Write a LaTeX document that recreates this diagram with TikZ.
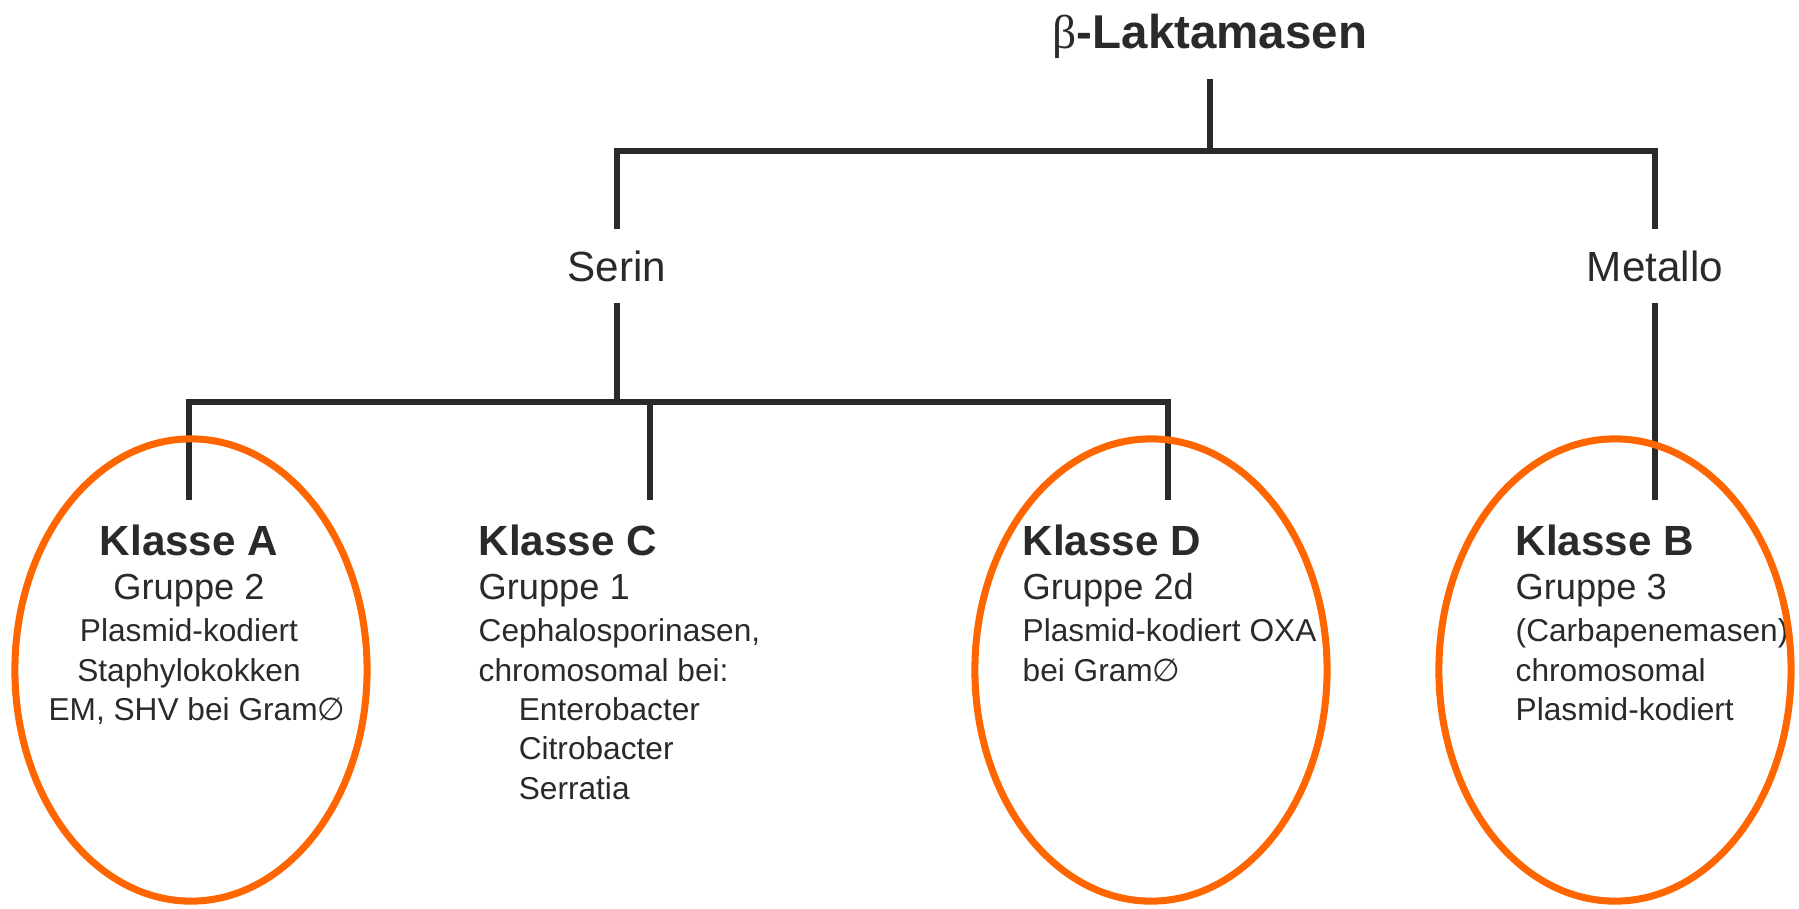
\documentclass[tikz,border=0pt]{standalone}
\usepackage{fontspec}
\setmainfont{Liberation Sans}
\newfontfamily\betafont{Liberation Serif}
\newfontfamily\symbfont{DejaVu Sans}
\usetikzlibrary{shapes.geometric, positioning}
\definecolor{ringorange}{HTML}{FF6600}
\definecolor{inkgray}{HTML}{2A2A2A}
\newcommand{\klassefont}{\fontsize{12}{14}\selectfont\bfseries}
\newcommand{\gruppefont}{\fontsize{10.3}{12}\selectfont}
\newcommand{\gramneg}{{\symbfont ∅}}

\begin{document}
\begin{tikzpicture}[
  x=0.01cm, y=-0.01cm,
  titlebox/.style={inner xsep=0pt, inner ysep=5.8pt, font=\fontsize{13.5}{16}\selectfont\bfseries, text=inkgray},
  branch/.style={inner sep=0pt, minimum height=0.72cm, font=\fontsize{12}{14}\selectfont, text=inkgray},
  classbox/.style={inner sep=0pt, align=left, font=\fontsize{9}{11.2}\selectfont, text=inkgray},
  ring/.style={ellipse, draw=ringorange, line width=2pt, inner sep=0pt, minimum width=3.52cm, minimum height=4.62cm},
  conn/.style={draw=inkgray, line width=1.5pt}
]
  \useasboundingbox (0,0) rectangle (1799,908);

  % Root
  \node[titlebox, anchor=base] (title) at (1210,48) {{\mdseries\betafont β}-Laktamasen};
  \coordinate (jT) at (1210,151);

  % Serin / Metallo
  \node[branch] (serin) at (617,266) {Serin};
  \node[branch] (metallo) at (1655,266) {Metallo};
  \coordinate (jS) at (617,402);

  % Classes
  \node[classbox, align=center, anchor=north] (kA) at (189,524) {%
    {\klassefont Klasse A}\\[1.5pt]
    {\gruppefont Gruppe 2}\\[0.7pt]
    Plasmid-kodiert\\
    Staphylokokken\\
    \hspace*{4.5pt}EM, SHV bei Gram\gramneg};
  \node[classbox, anchor=north west] (kC) at (478,524) {%
    {\klassefont Klasse C}\\[1.5pt]
    {\gruppefont Gruppe 1}\\[0.7pt]
    Cephalosporinasen,\\
    chromosomal bei:\\
    \hspace*{11.4pt}Enterobacter\\
    \hspace*{11.4pt}Citrobacter\\
    \hspace*{11.4pt}Serratia};
  \node[classbox, anchor=north west] (kD) at (1022,524) {%
    {\klassefont Klasse D}\\[1.5pt]
    {\gruppefont Gruppe 2d}\\[0.7pt]
    Plasmid-kodiert OXA\\
    bei Gram\gramneg};
  \node[classbox, anchor=north west] (kB) at (1515,524) {%
    {\klassefont Klasse B}\\[1.5pt]
    {\gruppefont Gruppe 3}\\[0.7pt]
    (Carbapenemasen)\\
    chromosomal\\
    Plasmid-kodiert};

  % Connector ends above the classes
  \coordinate (eA) at (189,500);
  \coordinate (eC) at (650,500);
  \coordinate (eD) at (1168,500);
  \coordinate (eB) at (1655,500);

  % Tree lines
  \draw[conn] (title.south) -- (jT);
  \draw[conn] (serin) |- (jT) -| (metallo);
  \draw[conn] (serin) -- (jS);
  \draw[conn] (eA) |- (jS) -| (eD);
  \draw[conn] (eC |- jS) -- (eC);
  \draw[conn] (metallo) -- (eB);

  % Highlight rings
  \node[ring] (ringA) at (191,670) {};
  \node[ring] (ringD) at (1151,670) {};
  \node[ring] (ringB) at (1615,670) {};
\end{tikzpicture}
\end{document}
